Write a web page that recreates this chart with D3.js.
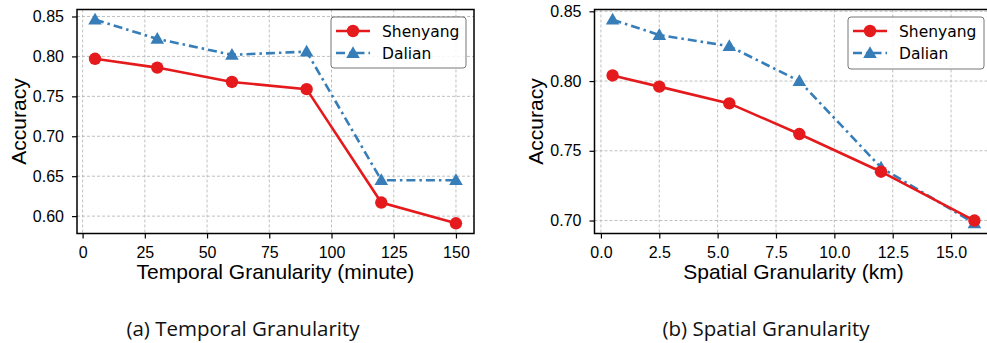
<!DOCTYPE html>
<html>
<head>
<meta charset="utf-8">
<script src="https://cdn.jsdelivr.net/npm/d3@7"></script>
<style>
  body { margin: 0; background: #fff; }
  svg { display: block; }
  .helv { font-family: "Liberation Sans", Arial, Helvetica, sans-serif; }
  .dejavu { font-family: "DejaVu Sans", sans-serif; }
  .cap { font-family: "Open Sans", "Noto Sans", sans-serif; }
</style>
</head>
<body>
<svg id="chart" width="987" height="343"></svg>
<script>
// temporal panel
const temporalX = [5, 30, 60, 90, 120, 150];
const temporalShenyang = [0.797, 0.786, 0.768, 0.759, 0.617, 0.591];
const temporalDalian = [0.846, 0.822, 0.802, 0.806, 0.645, 0.645];
const temporalXTicks = [0, 25, 50, 75, 100, 125, 150];
const temporalYTicks = [0.60, 0.65, 0.70, 0.75, 0.80, 0.85];

// spatial panel
const spatialX = [0.5, 2.5, 5.5, 8.5, 12, 16];
const spatialShenyang = [0.804, 0.796, 0.784, 0.762, 0.735, 0.700];
const spatialDalian = [0.844, 0.833, 0.825, 0.800, 0.738, 0.698];
const spatialXTicks = [0, 2.5, 5, 7.5, 10, 12.5, 15];
const spatialYTicks = [0.70, 0.75, 0.80, 0.85];

const seriesNames = ['Shenyang', 'Dalian'];
const RED = '#e41a1c';
const BLUE = '#377eb8';

const svg = d3.select('#chart');

// matplotlib-style 5% margins around the data
function padded(values) {
  const [lo, hi] = d3.extent(values);
  const m = (hi - lo) * 0.05;
  return [lo - m, hi + m];
}

function drawPanel(cfg) {
  const { left, right, top, bottom } = cfg.box;
  const g = svg.append('g');

  const x = d3.scaleLinear().domain(padded(cfg.xs)).range([left, right]);
  const y = d3.scaleLinear().domain(padded(cfg.a.concat(cfg.b))).range([bottom, top]);

  const clipId = 'clip-' + cfg.id;
  g.append('clipPath').attr('id', clipId)
    .append('rect')
    .attr('x', left).attr('y', top - 8)
    .attr('width', right - left).attr('height', bottom - top + 16);

  // grid
  const grid = g.append('g')
    .attr('stroke', '#b0b0b0')
    .attr('stroke-width', 0.8)
    .attr('stroke-dasharray', '3,2');
  grid.selectAll('.vx').data(cfg.xTicks).join('line')
    .attr('x1', d => x(d)).attr('x2', d => x(d))
    .attr('y1', top).attr('y2', bottom);
  grid.selectAll('.hy').data(cfg.yTicks).join('line')
    .attr('x1', left).attr('x2', right)
    .attr('y1', d => y(d)).attr('y2', d => y(d));

  // axes
  const xAxis = d3.axisBottom(x).tickValues(cfg.xTicks)
    .tickFormat(d3.format(cfg.xFmt)).tickSize(5).tickPadding(8);
  const yAxis = d3.axisLeft(y).tickValues(cfg.yTicks)
    .tickFormat(d3.format('.2f')).tickSize(5).tickPadding(8);

  const gx = g.append('g').attr('transform', `translate(0,${bottom})`).call(xAxis);
  const gy = g.append('g').attr('transform', `translate(${left},0)`).call(yAxis);
  [gx, gy].forEach(a => {
    a.attr('font-family', null).attr('font-size', null);
    a.select('.domain').remove();
    a.selectAll('.tick line').attr('stroke', '#000').attr('stroke-width', 1.2);
    a.selectAll('.tick text')
      .attr('class', 'helv')
      .style('font-size', '16px')
      .attr('fill', '#000');
  });

  // spines
  g.append('rect')
    .attr('x', left).attr('y', top)
    .attr('width', right - left).attr('height', bottom - top)
    .attr('fill', 'none').attr('stroke', '#000').attr('stroke-width', 1.5);

  // axis labels
  g.append('text')
    .attr('class', 'helv')
    .attr('x', (left + right) / 2).attr('y', bottom + 45)
    .attr('text-anchor', 'middle')
    .style('font-size', '21px')
    .text(cfg.xLabel);
  g.append('text')
    .attr('class', 'helv')
    .attr('transform', `translate(${cfg.yLabelX},${(top + bottom) / 2}) rotate(-90)`)
    .attr('text-anchor', 'middle')
    .style('font-size', '21px')
    .text('Accuracy');

  // series
  const plot = g.append('g').attr('clip-path', `url(#${clipId})`);
  const line = d3.line().x(d => x(d[0])).y(d => y(d[1]));
  const ptsA = cfg.xs.map((v, i) => [v, cfg.a[i]]);
  const ptsB = cfg.xs.map((v, i) => [v, cfg.b[i]]);

  plot.append('path').datum(ptsB)
    .attr('d', line).attr('fill', 'none')
    .attr('stroke', BLUE).attr('stroke-width', 2.6)
    .attr('stroke-dasharray', '9,4,2.5,4');
  plot.append('path').datum(ptsA)
    .attr('d', line).attr('fill', 'none')
    .attr('stroke', RED).attr('stroke-width', 2.6);

  const tri = d3.symbol().type(d3.symbolTriangle).size(80);
  plot.selectAll('.tri').data(ptsB).join('path')
    .attr('d', tri)
    .attr('transform', d => `translate(${x(d[0])},${y(d[1]) + 1})`)
    .attr('fill', BLUE);
  plot.selectAll('.dot').data(ptsA).join('circle')
    .attr('cx', d => x(d[0])).attr('cy', d => y(d[1]))
    .attr('r', 6.2).attr('fill', RED);

  // legend
  const L = cfg.legend;
  const lg = g.append('g').attr('transform', `translate(${L.x},${L.y})`);
  lg.append('rect')
    .attr('width', L.w).attr('height', L.h).attr('rx', 3)
    .attr('fill', '#fff').attr('fill-opacity', 0.85)
    .attr('stroke', '#777').attr('stroke-width', 1);
  seriesNames.forEach((name, i) => {
    const ry = 14 + i * 22;
    const row = lg.append('g').attr('transform', `translate(0,${ry})`);
    row.append('line')
      .attr('x1', 5).attr('x2', 39).attr('y1', 0).attr('y2', 0)
      .attr('stroke', i === 0 ? RED : BLUE).attr('stroke-width', 2.6)
      .attr('stroke-dasharray', i === 0 ? null : '9,4,2.5,4');
    if (i === 0) {
      row.append('circle').attr('cx', 22).attr('cy', 0).attr('r', 6.2).attr('fill', RED);
    } else {
      row.append('path').attr('d', tri).attr('transform', 'translate(22,1)').attr('fill', BLUE);
    }
    row.append('text')
      .attr('class', 'dejavu')
      .attr('x', 51).attr('y', 0).attr('dy', '0.36em')
      .style('font-size', '15.5px')
      .text(name);
  });

  // caption
  svg.append('text')
    .attr('class', 'cap')
    .attr('x', cfg.captionX).attr('y', 336)
    .attr('text-anchor', 'middle')
    .style('font-size', '20.5px')
    .attr('fill', '#111')
    .text(cfg.caption);
}

drawPanel({
  id: 'temporal',
  box: { left: 77, right: 474, top: 9.5, bottom: 233.5 },
  xs: temporalX, a: temporalShenyang, b: temporalDalian,
  xTicks: temporalXTicks, yTicks: temporalYTicks, xFmt: 'd',
  xLabel: 'Temporal Granularity (minute)', yLabelX: 26,
  legend: { x: 331, y: 17, w: 135, h: 51 },
  caption: '(a) Temporal Granularity', captionX: 243
});

drawPanel({
  id: 'spatial',
  box: { left: 594.5, right: 992.5, top: 9.5, bottom: 233.5 },
  xs: spatialX, a: spatialShenyang, b: spatialDalian,
  xTicks: spatialXTicks, yTicks: spatialYTicks, xFmt: '.1f',
  xLabel: 'Spatial Granularity (km)', yLabelX: 543,
  legend: { x: 848, y: 17, w: 136, h: 52 },
  caption: '(b) Spatial Granularity', captionX: 766
});
</script>
</body>
</html>
